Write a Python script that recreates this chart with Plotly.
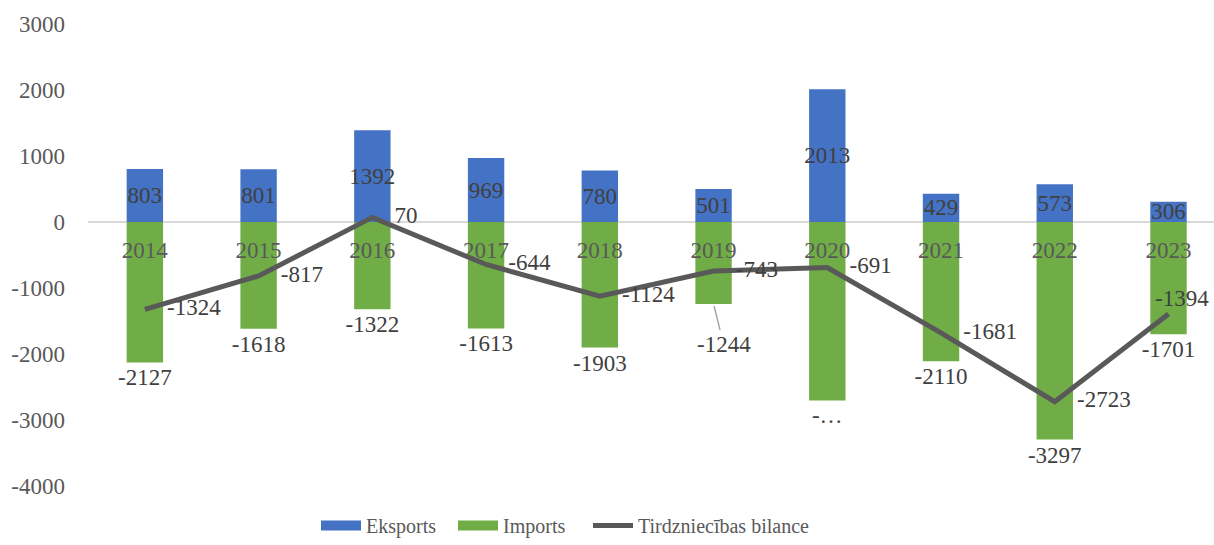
import plotly.graph_objects as go

years = ["2014", "2015", "2016", "2017", "2018", "2019", "2020", "2021", "2022", "2023"]
exports = [803, 801, 1392, 969, 780, 501, 2013, 429, 573, 306]
imports = [-2127, -1618, -1322, -1613, -1903, -1244, -2704, -2110, -3297, -1701]
balance = [-1324, -817, 70, -644, -1124, -743, -691, -1681, -2723, -1394]
y_ticks = [3000, 2000, 1000, 0, -1000, -2000, -3000, -4000]

import_labels = [str(v) for v in imports]
import_labels[6] = "-…"
import_labels[5] = ""  # drawn with a leader line below

balance_labels = [str(v) for v in balance]
balance_labels[-1] = ""  # placed above-right, as in the original

FONT = "Liberation Serif, Times New Roman, serif"
TXT = "#404040"
AX = "#595959"
BLUE = "#4472c4"
GREEN = "#70ad47"
LINE = "#595959"
y_min, y_max = -4000, 3000

H, TOP, BOT, PLOT_BOTTOM = 545, 24, 0, 486
L = 88
W = 1214
paper_h = H - TOP - BOT
y_dom0 = (H - BOT - PLOT_BOTTOM) / paper_h
plot_w = W - L


def px_x(px):
    return (px - L) / plot_w


def px_y(px):
    return (H - BOT - px) / paper_h


fig = go.Figure()
fig.add_trace(go.Bar(
    x=years, y=exports, name="Eksports", marker_color=BLUE, width=0.32,
    text=[str(v) for v in exports], textposition="inside", insidetextanchor="middle",
    textangle=0, textfont=dict(color=TXT, size=23, family=FONT), constraintext="none",
    marker_line_width=0, showlegend=False,
))
fig.add_trace(go.Bar(
    x=years, y=imports, name="Imports", marker_color=GREEN, width=0.32,
    text=import_labels, textposition="outside", textangle=0,
    textfont=dict(color=TXT, size=23, family=FONT), constraintext="none",
    cliponaxis=False, marker_line_width=0, showlegend=False,
))
fig.add_trace(go.Scatter(
    x=years, y=balance, name="Tirdzniecības bilance", mode="lines+markers+text",
    line=dict(color=LINE, width=5),
    marker=dict(size=34, color="rgba(0,0,0,0)"),
    text=balance_labels, textposition="middle right",
    textfont=dict(color=TXT, size=23, family=FONT), cliponaxis=False,
    showlegend=False,
))

# legend entries (wide rectangles like the original), each in its own legend box
legend_specs = [("Eksports", BLUE, 12, "legend", 316),
                ("Imports", GREEN, 12, "legend2", 453),
                ("Tirdzniecības bilance", LINE, 5, "legend3", 588)]
for name, color, w, lg, _ in legend_specs:
    fig.add_trace(go.Scatter(x=[None], y=[None], mode="lines", name=name,
                             line=dict(color=color, width=w), showlegend=True, legend=lg))

i19 = years.index("2019")
fig.add_annotation(
    x=i19, y=imports[i19], text=str(imports[i19]), showarrow=True, arrowhead=0,
    arrowcolor="#a6a6a6", arrowwidth=1.5, ax=10, ay=40, standoff=2,
    font=dict(color=TXT, size=23, family=FONT),
)
i_last = len(years) - 1
fig.add_annotation(
    x=i_last, y=balance[i_last], text=str(balance[i_last]), showarrow=False,
    xshift=13, yshift=16, font=dict(color=TXT, size=23, family=FONT),
)

legend_common = dict(orientation="h", xanchor="left", y=0, yanchor="bottom",
                     font=dict(size=20, color=AX, family=FONT), itemwidth=40,
                     bgcolor="rgba(0,0,0,0)")
layout_legends = {}
for _, _, _, lg, xpx in legend_specs:
    layout_legends[lg] = dict(legend_common, x=px_x(xpx))

fig.update_layout(
    width=W, height=H,
    margin=dict(l=L, r=0, t=TOP, b=BOT),
    paper_bgcolor="white", plot_bgcolor="white",
    barmode="relative",
    font=dict(family=FONT, color=AX, size=20),
    showlegend=True,
    **layout_legends,
    xaxis=dict(
        type="category", range=[-0.5, 9.4], showgrid=False, showline=False,
        ticks="", anchor="free", automargin=False,
        position=y_dom0 + (1 - y_dom0) * (0 - y_min) / (y_max - y_min),
        tickfont=dict(size=23, color=AX, family=FONT), ticklabelstandoff=12,
    ),
    yaxis=dict(
        domain=[y_dom0, 1], automargin=False,
        range=[y_min, y_max], tickvals=y_ticks, ticktext=[str(v) for v in y_ticks],
        showgrid=False, zeroline=True,
        zerolinecolor="#d9d9d9", zerolinewidth=2, showline=False, ticks="",
        tickfont=dict(size=23, color=AX, family=FONT), ticklabelstandoff=22,
    ),
)

fig.write_html("out.html")
